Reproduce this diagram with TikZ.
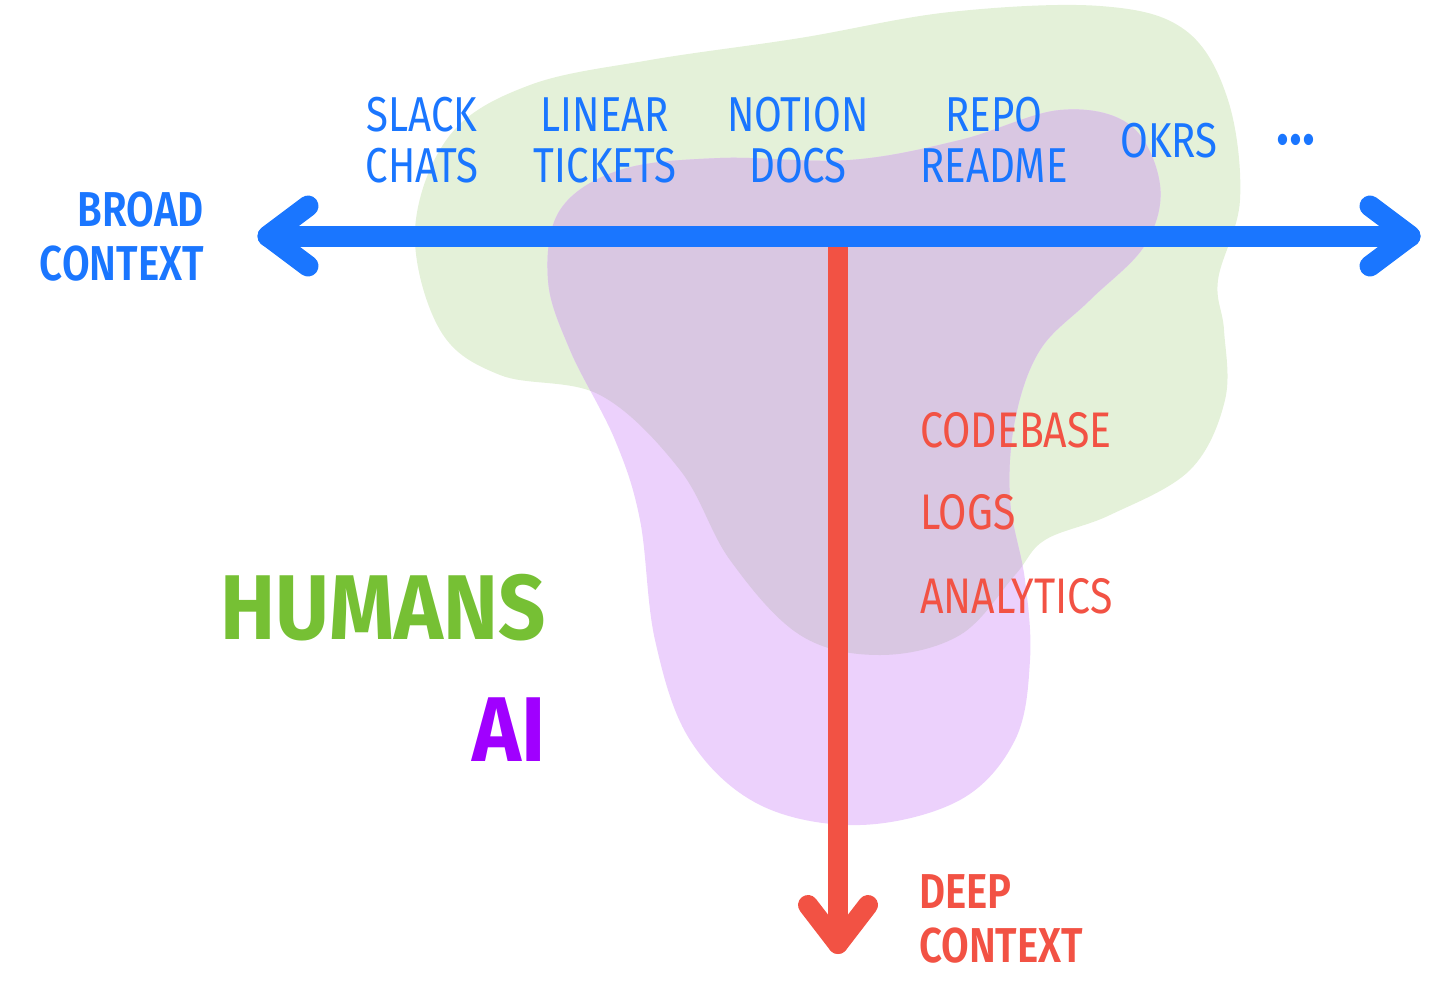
\documentclass[tikz,border=0pt]{standalone}
\usepackage{fontspec}
\setmainfont{Fira Sans}
\newfontfamily\condfont[FakeStretch=0.82]{Fira Sans}
\newfontfamily\condbold[FakeStretch=0.82]{Fira Sans SemiBold}
\newfontfamily\whofont[FakeStretch=0.90]{Fira Sans Bold}
\usepackage{tikz}
\usetikzlibrary{positioning,calc}
\definecolor{cblue}{HTML}{1A76FF}
\definecolor{cred}{HTML}{F25244}
\definecolor{cgreen}{HTML}{76C034}
\definecolor{cpurple}{HTML}{A000FF}
\definecolor{blobgreen}{HTML}{E4F1D9}
\definecolor{blobpurple}{HTML}{ECD1FC}
\definecolor{blobmix}{HTML}{D9C7E2}
\tikzset{
 src/.style={align=center, text=cblue, inner sep=0pt,
 font=\condfont\fontsize{49}{51}\selectfont},
 deep/.style={anchor=west, text=cred, inner sep=0pt,
 font=\condfont\fontsize{50}{52}\selectfont},
 axlab/.style={inner sep=0pt, font=\condbold\fontsize{49}{54}\selectfont},
 who/.style={anchor=east, inner sep=0pt, font=\whofont\fontsize{92}{96}\selectfont},
 axis/.style={line width=21pt, line cap=round, line join=round},
}
\def\greenblob{plot[smooth cycle, tension=0.6] coordinates {(415,230) (440,330) (500,375) (600,395) (680,470) (730,560) (800,635) (880,655) (960,635) (1015,575) (1045,540) (1110,515) (1190,470) (1225,400) (1224,330) (1218,280) (1240,200) (1228,100) (1185,30) (1100,6) (950,12) (800,38) (650,60) (530,85) (450,135)}}
\def\purpleblob{plot[smooth cycle, tension=0.6] coordinates {(560,210) (620,170) (720,158) (850,160) (960,140) (1060,110) (1130,125) (1160,185) (1145,245) (1090,300) (1040,350) (1015,420) (1010,500) (1025,580) (1030,660) (1015,740) (960,800) (860,825) (760,805) (690,740) (655,640) (640,520) (615,440) (570,350) (548,280)}}

\begin{document}
\begin{tikzpicture}[x=1pt, y=-1pt]
 \useasboundingbox (0,0) rectangle (1456,989);

 % blobs
 \fill[blobgreen] \greenblob;
 \fill[blobpurple] \purpleblob;
 \begin{scope}
 \clip \greenblob;
 \fill[blobmix] \purpleblob;
 \end{scope}

 % axes
 \coordinate (lt) at (268,236);
 \coordinate (rt) at (1410,236);
 \coordinate (top) at (838,236);
 \coordinate (bot) at (838,944);
 \draw[axis, cred, line width=20pt] (top) -- (bot);
 \draw[axis, cred, line width=20pt] ($(bot)+(-30,-39)$) -- (bot) -- ($(bot)+(30,-39)$);
 \draw[axis, cblue] (lt) -- (rt);
 \draw[axis, cblue] ($(lt)+(40,-30)$) -- (lt) -- ($(lt)+(40,30)$);
 \draw[axis, cblue] ($(rt)+(-40,-30)$) -- (rt) -- ($(rt)+(-40,30)$);

 % sources
 \node[src] (slack) at (422,140) {SLACK\\CHATS};
 \node[src] (linear) at (605,140) {LINEAR\\TICKETS};
 \node[src] (notion) at (798,140) {NOTION\\DOCS};
 \node[src] (repo) at (994,140) {REPO\\README};
 \node[src] (okrs) at (1169,141) {OKRS};
 \node[src, font=\condbold\fontsize{66}{66}\selectfont] (more) at (1296,140) {{.}{.}{.}};

 \node[deep] (code) at (920,430) {CODEBASE};
 \node[deep] (logs) at (920,512) {LOGS};
 \node[deep] (ana) at (920,596) {ANALYTICS};

 % axis labels
 \node[axlab, align=right, text=cblue, anchor=east] (broad) at (204,237) {BROAD\\CONTEXT};
 \node[axlab, align=left, text=cred, anchor=west] (deepctx) at (919,919) {DEEP\\CONTEXT};

 \node[who, text=cgreen] (humans) at (546,608) {HUMANS};
 \node[who, text=cpurple] (ai) at (546,730) {AI};
\end{tikzpicture}
\end{document}
